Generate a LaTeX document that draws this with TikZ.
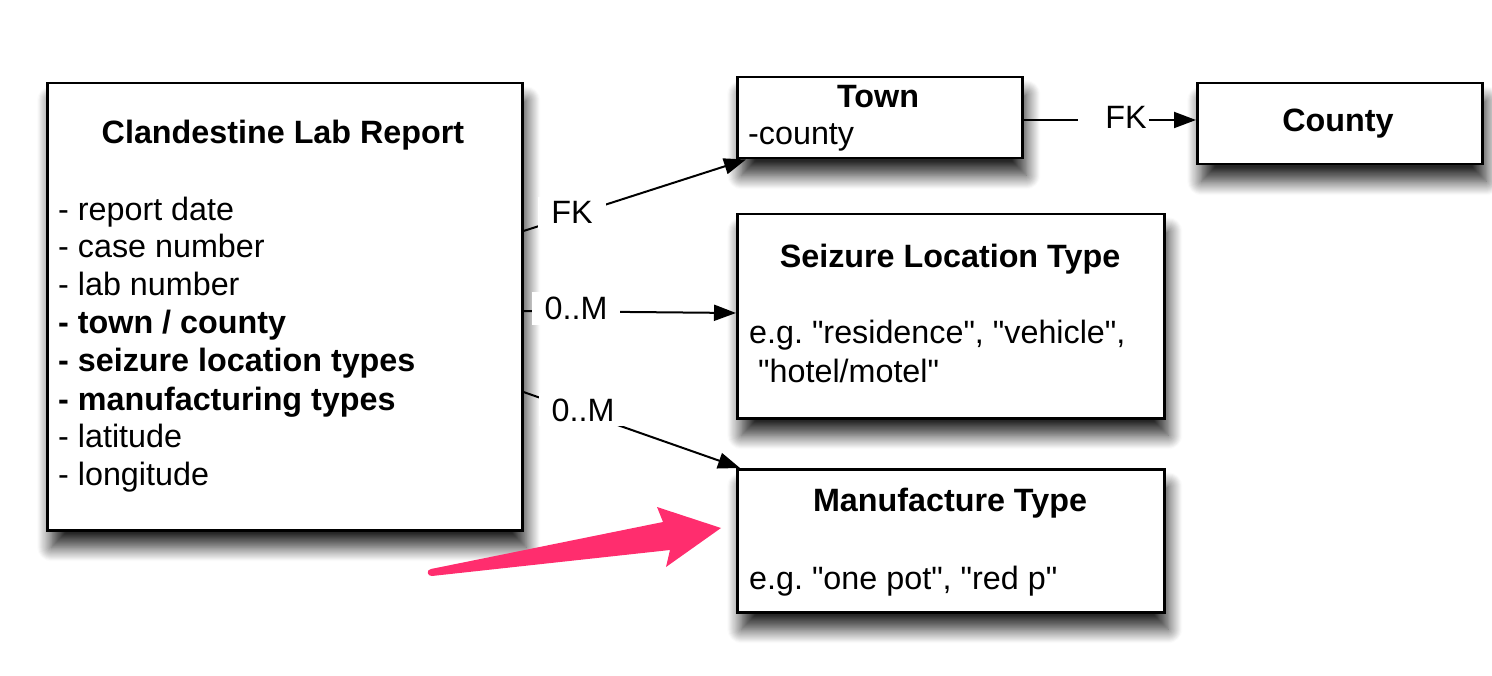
\documentclass[tikz,border=0pt]{standalone}
\usepackage{fontspec}
\setmainfont{Liberation Sans}[Ligatures=TeXOff]
\usetikzlibrary{arrows.meta,shadows.blur,calc}
\definecolor{pinkarrow}{RGB}{255,45,110}
\frenchspacing
\begin{document}
\begin{tikzpicture}[x=1pt,y=-1pt,
  font=\fontsize{32.3}{38}\selectfont,
  entity/.style={draw=black,line width=2.5pt,fill=white,anchor=north west,inner sep=0pt,
    blur shadow={shadow xshift=4pt,shadow yshift=-17pt,shadow blur radius=14pt,
      shadow blur steps=14,shadow opacity=85}},
  title/.style={anchor=base,inner sep=0pt,font=\fontsize{32.3}{38}\selectfont\bfseries},
  txt/.style={anchor=base west,inner sep=0pt},
  bold/.style={font=\fontsize{32.3}{38}\selectfont\bfseries},
  lbl/.style={fill=white,inner xsep=13pt,inner ysep=5pt,anchor=base},
  link/.style={line width=2pt,-{Triangle[length=22pt,width=16pt]}},
  plain/.style={line width=2pt}]
\useasboundingbox (0,0) rectangle (1492,676);

% entity boxes
\node[entity,minimum width=475pt,minimum height=447pt] (main) at (46,82) {};
\node[entity,minimum width=285pt,minimum height=81pt] (town) at (736,76) {};
\node[entity,minimum width=285pt,minimum height=81pt] (county) at (1196,82) {};
\node[entity,minimum width=427pt,minimum height=204pt] (seiz) at (736,213) {};
\node[entity,minimum width=427pt,minimum height=143pt] (manu) at (736,468) {};

% box contents
\node[title] (mainT) at (283,144) {Clandestine Lab Report};
\node[txt] (m1) at (58,221) {- report date};
\node[txt] (m2) at (58,258) {- case number};
\node[txt] (m3) at (58,296) {- lab number};
\node[txt,bold] (m4) at (58,334) {- town / county};
\node[txt,bold] (m5) at (58,372) {- seizure location types};
\node[txt,bold] (m6) at (58,410) {- manufacturing types};
\node[txt] (m7) at (58,447) {- latitude};
\node[txt] (m8) at (58,485) {- longitude};

\node[title] (townT) at (878,108) {Town};
\node[txt] (townA) at (748,145) {-county};
\node[title] (countyT) at (1338,132) {County};
\node[title] (seizT) at (950,268) {Seizure Location Type};
\node[txt] (seizA) at (749,344) {e.g. "residence", "vehicle",};
\node[txt] (seizB) at (749,382) {\ "hotel/motel"};
\node[title] (manuT) at (950,511) {Manufacture Type};
\node[txt] (manuA) at (749,589) {e.g. "one pot", "red p"};

% relationships (lines first, labels on top)
\coordinate (fkEnd) at ($(town.south west)+(10,0)$);
\coordinate (omEnd) at ($(manu.north west)+(4,0)$);
\draw[link] (main.east |- 0,231) -- (fkEnd);
\draw[link] (main.east |- 0,311) -- (seiz.west |- 0,313);
\draw[link] (main.east |- 0,392) -- (omEnd);
\draw[plain] (town.east |- 0,120) -- (1078,120);

\node[lbl] (fk1) at (572,224) {FK};
\node[lbl] (om1) at (576,320) {0..M};
\node[lbl] (om2) at (583,421) {0..M};
\node[lbl,inner sep=2pt] (fk2) at (1126,129) {FK};
\draw[link] (fk2.east |- 0,120) -- (county.west |- 0,120);

% highlight arrow with a rounded tail
\fill[pinkarrow] (431,569) -- (663,522) -- (657,507) -- (721,528)
  -- (666,567) -- (670,550) -- (432,576)
  .. controls (427,576.5) and (426,569.5) .. (431,569) -- cycle;
\end{tikzpicture}
\end{document}
